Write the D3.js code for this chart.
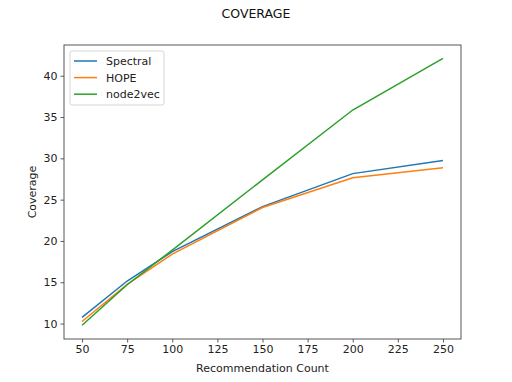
<!DOCTYPE html>
<html><head><meta charset="utf-8">
<script src="https://cdn.jsdelivr.net/npm/d3@7"></script>
<style>body{margin:0;background:#fff}svg{font-family:"DejaVu Sans",sans-serif}</style>
</head><body><svg id="c" width="512" height="382"></svg>
<script>
const counts = [50, 75, 100, 150, 200, 250];
const spectral = [10.75, 15.15, 18.7, 24.15, 28.15, 29.75];
const hope = [10.25, 14.75, 18.4, 24.05, 27.65, 28.85];
const node2vec = [9.8, 14.7, 18.9, 27.4, 35.85, 42.1];
const seriesNames = ["Spectral", "HOPE", "node2vec"];
const seriesColors = ["#1f77b4", "#ff7f0e", "#2ca02c"];
const xTicks = [50, 75, 100, 125, 150, 175, 200, 225, 250];
const yTicks = [10, 15, 20, 25, 30, 35, 40];

const svg = d3.select("#c");
const L = 64, R = 461, T = 45, B = 339;
const x = d3.scaleLinear().domain([40, 260]).range([L, R]);
const y = d3.scaleLinear().domain([8.13, 43.72]).range([B, T]);

const series = [spectral, hope, node2vec];
const line = d3.line().x((d, i) => x(counts[i])).y(d => y(d));
series.forEach((s, k) => {
  svg.append("path").attr("d", line(s)).attr("fill", "none")
    .attr("stroke", seriesColors[k]).attr("stroke-width", 1.5);
});

const xa = svg.append("g").attr("transform", `translate(0,${B})`)
  .call(d3.axisBottom(x).tickValues(xTicks).tickSize(3.5).tickPadding(3));
const ya = svg.append("g").attr("transform", `translate(${L},0)`)
  .call(d3.axisLeft(y).tickValues(yTicks).tickSize(3.5).tickPadding(3));
[xa, ya].forEach(a => {
  a.select(".domain").remove();
  a.selectAll("text").attr("font-size", 11).attr("fill", "#222").attr("font-family", "DejaVu Sans");
  a.selectAll("line").attr("stroke", "#333").attr("stroke-width", 0.8);
});
svg.append("rect").attr("x", L).attr("y", T).attr("width", R - L).attr("height", B - T)
  .attr("fill", "none").attr("stroke", "#444").attr("stroke-width", 0.9);

svg.append("text").attr("x", (L + R) / 2).attr("y", 372).attr("text-anchor", "middle")
  .attr("font-size", 11).attr("fill", "#222").text("Recommendation Count");
svg.append("text").attr("transform", `translate(36,${(T + B) / 2}) rotate(-90)`)
  .attr("text-anchor", "middle").attr("font-size", 11).attr("fill", "#222").text("Coverage");
svg.append("text").attr("x", 256).attr("y", 18).attr("text-anchor", "middle")
  .attr("font-size", 12.5).attr("fill", "#111").text("COVERAGE");

const lg = svg.append("g").attr("transform", `translate(70,51)`);
lg.append("rect").attr("width", 94).attr("height", 54).attr("rx", 2)
  .attr("fill", "#fff").attr("fill-opacity", 0.8).attr("stroke", "#ccc").attr("stroke-width", 0.8);
seriesNames.forEach((n, k) => {
  const yy = 10 + k * 16.6;
  lg.append("line").attr("x1", 4).attr("x2", 27).attr("y1", yy).attr("y2", yy)
    .attr("stroke", seriesColors[k]).attr("stroke-width", 1.5);
  lg.append("text").attr("x", 36).attr("y", yy + 4).attr("font-size", 11).attr("fill", "#222").text(n);
});
</script></body></html>
